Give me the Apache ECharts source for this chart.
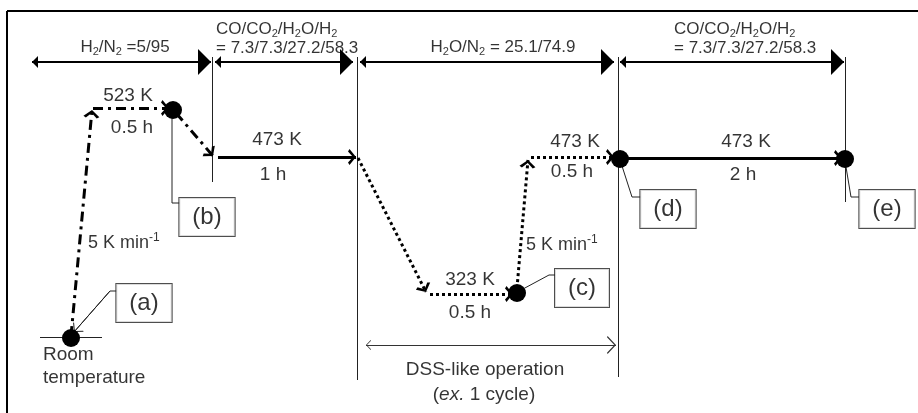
<!DOCTYPE html>
<html>
<head>
<meta charset="utf-8">
<script src="https://cdn.jsdelivr.net/npm/echarts@6/dist/echarts.min.js"></script>
<style>
  html, body { margin: 0; padding: 0; background: #fff; }
  #box { width: 918px; height: 413px; }
</style>
</head>
<body>
<div id="box"></div>
<script>
const FONT = '"Liberation Sans", Arial, Helvetica, sans-serif';

// schematic coordinates: x = programme time, y = temperature level (downwards)
const heatSteps = [                       // dash-dot: ramp, 523 K hold, cool down
  [[71, 336], [92, 110]],
  [[93, 108], [169, 108]],
  [[176, 113], [213, 156]]
];
const holdSteps = [                       // solid: 473 K holds
  [[218, 157], [356, 157]],
  [[624, 158], [842, 158]]
];
const dssSteps = [                        // dotted: DSS-like cycle
  [[358, 158], [426, 292]],
  [[430, 294], [513, 294]],
  [[517, 288], [528, 160]],
  [[531, 157], [614, 157]]
];
const statePoints = [[71, 338], [173, 110], [517, 293], [620, 159], [845, 159]];
const stateNames = ['(a)', '(b)', '(c)', '(d)', '(e)'];
const stateBoxes = [[144, 303], [207, 217], [582, 288], [668, 209], [887, 209]];
const leaders = [
  [[117, 291], [110, 291], [74, 332]],
  [[180, 203], [172, 203], [172, 118]],
  [[555, 275], [549, 275], [523, 289]],
  [[641, 197], [632, 197], [622, 166]],
  [[859, 197], [851, 197], [846, 167]]
];
const switchTimes = [212, 357, 618, 845];
const switchBottoms = [182, 380, 377, 202];
const switchTop = 57;
const gasSpans = [[32, 211], [215, 353], [360, 614], [620, 844]];
const gasY = 62;
const dssSpan = [366, 616];
const dssY = 345;
const roomLine = [[40, 337], [102, 337]];

const notes = [
  [125, 47, '{g|H}{gs|2}{g|/N}{gs|2}{g| =5/95}', 'center'],
  [216, 29, '{g|CO/CO}{gs|2}{g|/H}{gs|2}{g|O/H}{gs|2}', 'left'],
  [216, 48, '{g|= 7.3/7.3/27.2/58.3}', 'left'],
  [503, 47, '{g|H}{gs|2}{g|O/N}{gs|2}{g| = 25.1/74.9}', 'center'],
  [674, 29, '{g|CO/CO}{gs|2}{g|/H}{gs|2}{g|O/H}{gs|2}', 'left'],
  [674, 48, '{g|= 7.3/7.3/27.2/58.3}', 'left'],
  [128, 96, '{n|523 K}', 'center'],
  [132, 128, '{n|0.5 h}', 'center'],
  [277, 140, '{n|473 K}', 'center'],
  [273, 175, '{n|1 h}', 'center'],
  [88, 243, '{m|5 K min}{p|-1}', 'left'],
  [470, 280, '{n|323 K}', 'center'],
  [470, 313, '{n|0.5 h}', 'center'],
  [575, 142, '{n|473 K}', 'center'],
  [572, 172, '{n|0.5 h}', 'center'],
  [526, 245, '{m|5 K min}{p|-1}', 'left'],
  [746, 142, '{n|473 K}', 'center'],
  [743, 175, '{n|2 h}', 'center'],
  [43, 355, '{n|Room}', 'left'],
  [43, 378, '{n|temperature}', 'left'],
  [485, 370, '{n|DSS-like operation}', 'center'],
  [484, 395, '{n|(}{i|ex.}{n| 1 cycle)}', 'center']
];

// arrow heads: tip sits at the centre of the symbol box
const chevron = 'path://M5,0L10,6.5L8.4,8L5,3L1.6,8L0,6.5ZM5,-8';
const thinChevron = 'path://M5,0L10,8.4L9.3,9L5,1.7L0.7,9L0,8.4ZM5,-9';
const triangle = 'path://M5,0L10,13L0,13ZM5,-13';

const segs = list => list.map(c => ({ coords: c }));

function lineSeries(data, style, symbol, symbolSize, extra) {
  return Object.assign({
    type: 'lines',
    coordinateSystem: 'cartesian2d',
    data: data,
    silent: true,
    symbol: symbol || ['none', 'none'],
    symbolSize: symbolSize || 10,
    lineStyle: Object.assign({ color: '#000', width: 1, opacity: 1, curveness: 0 }, style)
  }, extra || {});
}

const rich = {
  g: { fontFamily: FONT, fontSize: 17, lineHeight: 20, color: '#000' },
  gs: { fontFamily: FONT, fontSize: 11, lineHeight: 11, color: '#000', verticalAlign: 'bottom' },
  n: { fontFamily: FONT, fontSize: 19, lineHeight: 22, color: '#000' },
  m: { fontFamily: FONT, fontSize: 18, lineHeight: 22, color: '#000' },
  p: { fontFamily: FONT, fontSize: 12, lineHeight: 12, color: '#000', verticalAlign: 'top' },
  i: { fontFamily: FONT, fontSize: 19, lineHeight: 22, color: '#000', fontStyle: 'italic' }
};

const chart = echarts.init(document.getElementById('box'));
chart.setOption({
  animation: false,
  backgroundColor: '#fff',
  grid: { left: 0, right: 0, top: 0, bottom: 0 },
  xAxis: { type: 'value', min: 0, max: 918, show: false },
  yAxis: { type: 'value', min: 0, max: 413, inverse: true, show: false },
  series: [
    // frame
    lineSeries(segs([[[7, 11], [918, 11]], [[7, 11], [7, 413]]]), { width: 2 }),
    // gas switch markers
    lineSeries(switchTimes.map((x, i) => ({ coords: [[x, switchTop], [x, switchBottoms[i]]] })), { color: '#222' }),
    lineSeries(segs([roomLine]), { color: '#222' }),
    // gas composition spans
    lineSeries(gasSpans.map(s => ({ coords: [[s[0], gasY], [s[1], gasY]] })), { width: 2 },
      [triangle, triangle], [12, 26]),
    // DSS-like operation span
    lineSeries(segs([[[dssSpan[0], dssY], [dssSpan[1], dssY]]]), { color: '#333' },
      [thinChevron, thinChevron], [10, 18]),
    // temperature programme
    lineSeries(segs(heatSteps), { width: 3, type: [10, 5, 3, 5] }, ['none', chevron], [10, 16]),
    lineSeries(segs(holdSteps), { width: 3 }, ['none', chevron], [10, 16]),
    lineSeries(segs(dssSteps), { width: 3, type: [3, 3] }, ['none', chevron], [10, 16]),
    // leaders to the sample labels
    lineSeries(segs(leaders), { color: '#222' }, null, null, { polyline: true }),
    lineSeries(segs([leaders[0].slice(-2)]), { color: '#222' }, ['none', thinChevron], [7, 14]),
    {
      type: 'scatter',
      silent: true,
      z: 5,
      symbolSize: 18,
      itemStyle: { color: '#000', opacity: 1 },
      data: statePoints
    },
    {
      type: 'scatter',
      silent: true,
      z: 6,
      symbolSize: 1,
      itemStyle: { color: 'transparent' },
      data: stateBoxes.map((p, i) => ({ value: p, name: stateNames[i] })),
      label: {
        show: true,
        position: 'inside',
        formatter: p => p.name,
        fontFamily: FONT,
        fontSize: 24,
        lineHeight: 28,
        color: '#000',
        backgroundColor: '#fff',
        borderColor: '#222',
        borderWidth: 1,
        padding: [5, 13, 5, 13]
      }
    },
    {
      type: 'scatter',
      silent: true,
      z: 6,
      symbolSize: 1,
      itemStyle: { color: 'transparent' },
      data: notes.map(n => ({ value: [n[0], n[1]], text: n[2], label: { align: n[3] } })),
      label: {
        show: true,
        position: 'inside',
        verticalAlign: 'middle',
        formatter: p => p.data.text,
        fontFamily: FONT,
        color: '#000',
        rich: rich
      }
    }
  ]
});
</script>
</body>
</html>
